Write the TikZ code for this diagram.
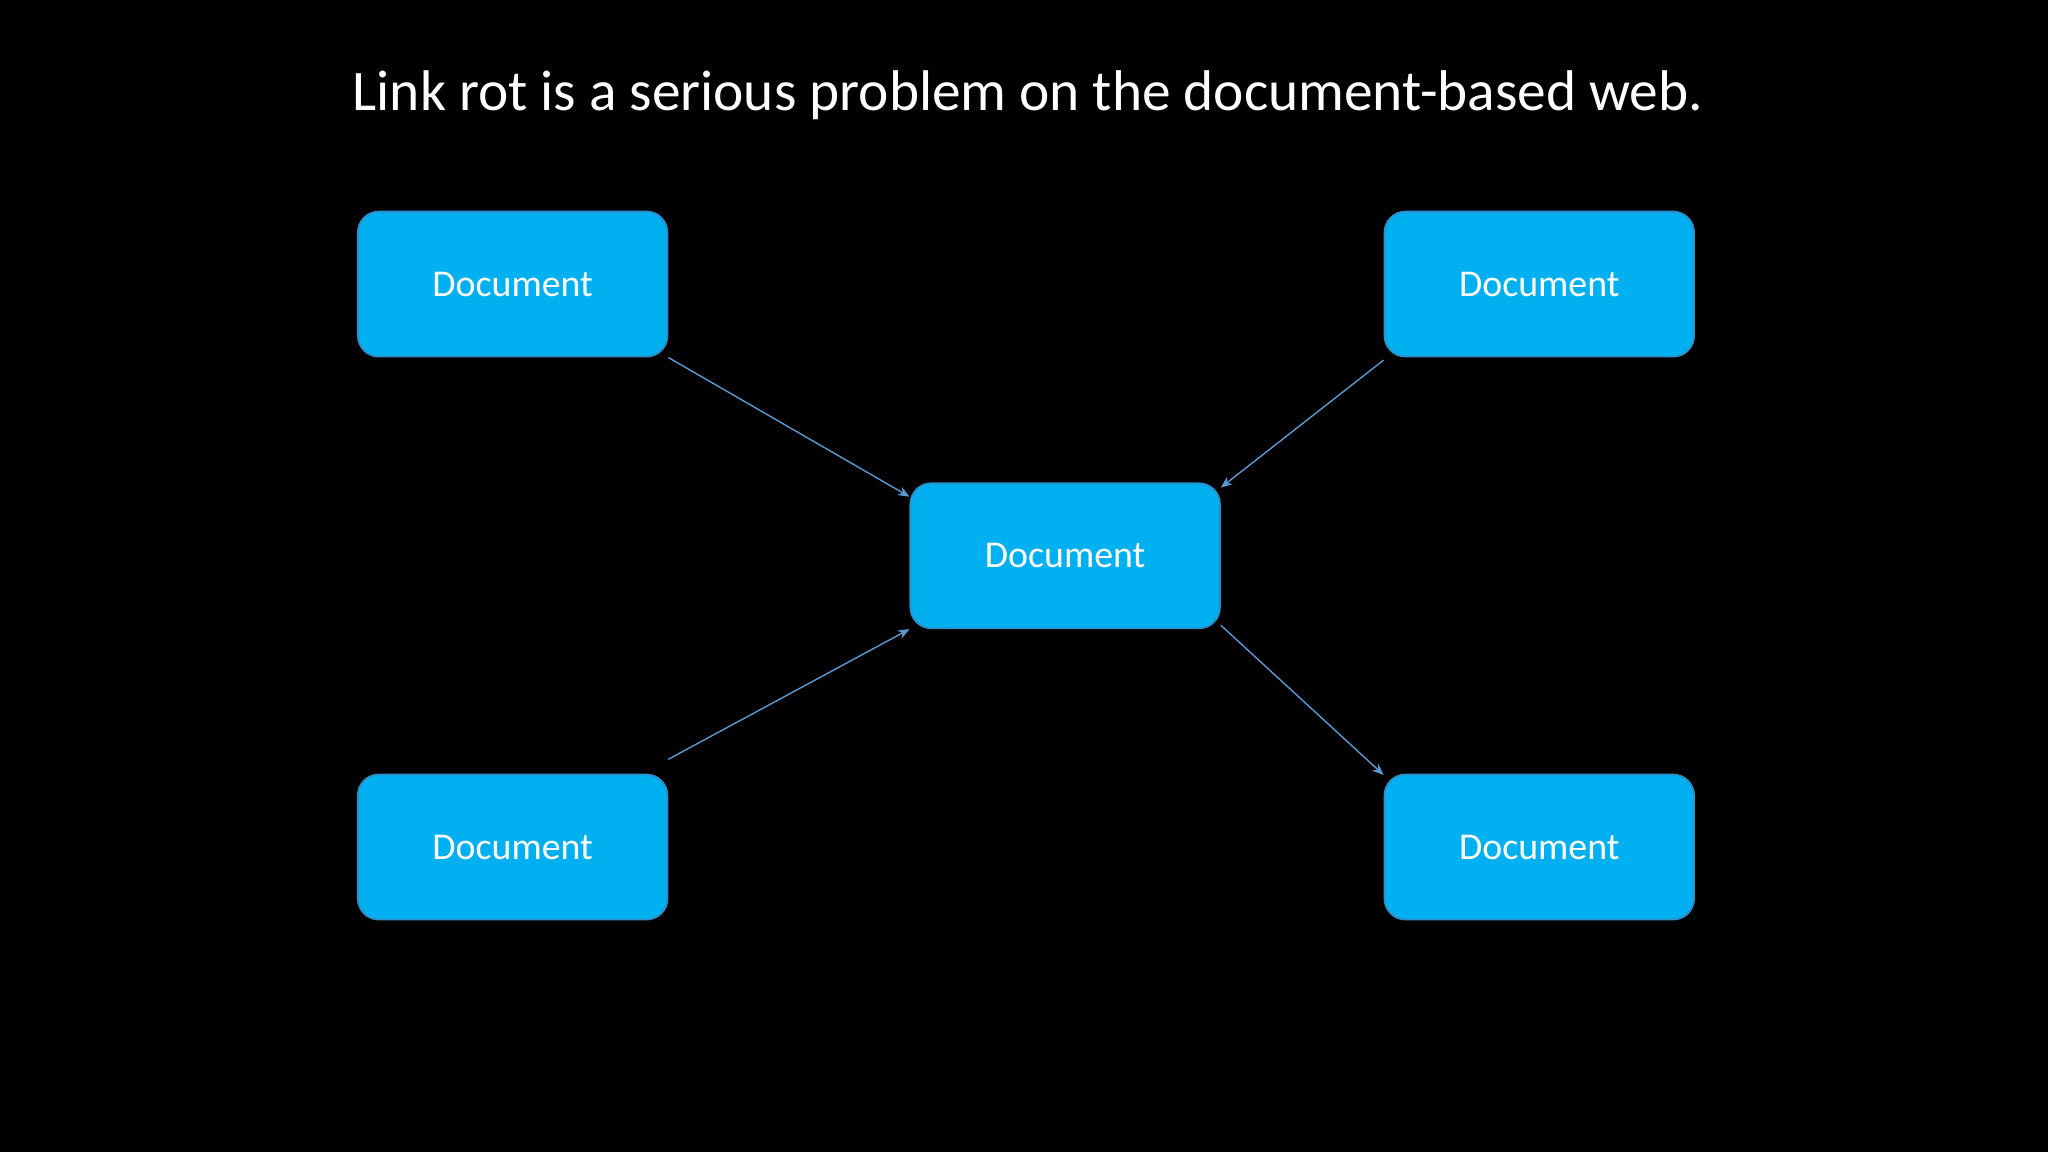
\documentclass[tikz,border=0pt]{standalone}
\usepackage{fontspec}
\setmainfont{Carlito}
\usetikzlibrary{arrows.meta}
\definecolor{boxfill}{HTML}{00B0F0}
\definecolor{boxline}{HTML}{2E8FC8}
\definecolor{arr}{HTML}{5B9BD5}
\begin{document}
\begin{tikzpicture}[x=0.02cm,y=-0.02cm,
  doc/.style={draw=boxline,line width=0.8pt,fill=boxfill,rounded corners=0.32cm,minimum width=4.74cm,minimum height=2.22cm,text=white,font=\fontsize{16.5}{18}\selectfont,inner sep=0pt},
  link/.style={draw=arr,line width=0.6pt,-{Stealth[length=5pt,width=4pt]}}]
\fill[black] (0,0) rectangle (1568,882);
\node[text=white,font=\fontsize{25}{30}\selectfont] (title) at (787,73) {Link rot is a serious problem on the document-based web.};
\node[doc] (tl) at (392.5,217.5) {Document};
\node[doc] (tr) at (1178.5,217.5) {Document};
\node[doc] (c) at (815.5,425.5) {Document};
\node[doc] (bl) at (392.5,648.5) {Document};
\node[doc] (br) at (1178.5,648.5) {Document};
\draw[link] (tl.south east) -- ([yshift=-0.22cm]c.north west);
\draw[link] ([yshift=-0.04cm]tr.south west) -- ([yshift=-0.08cm]c.north east);
\draw[link] ([yshift=0.22cm]bl.north east) -- (c.south west);
\draw[link] ([yshift=0.06cm]c.south east) -- ([yshift=-0.02cm]br.north west);
\end{tikzpicture}
\end{document}
